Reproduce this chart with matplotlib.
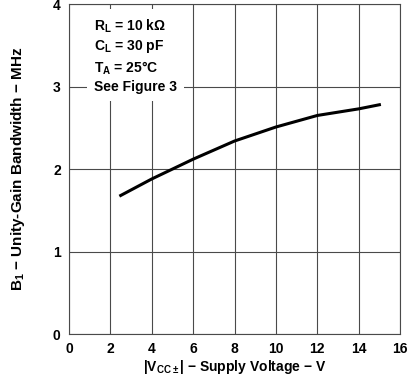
import matplotlib
matplotlib.use('Agg')
import matplotlib.pyplot as plt

# values
supply_v = [2.5, 4, 5, 6, 8, 10, 12, 14, 15]
bandwidth = [1.68, 1.88, 2.0, 2.12, 2.34, 2.51, 2.65, 2.73, 2.78]

x_ticks = [0, 2, 4, 6, 8, 10, 12, 14, 16]
y_ticks = [0, 1, 2, 3, 4]

plt.rcParams['font.family'] = 'Liberation Sans'
plt.rcParams['font.weight'] = 'bold'
plt.rcParams['mathtext.fontset'] = 'custom'
plt.rcParams['mathtext.rm'] = 'Liberation Sans:bold'
plt.rcParams['mathtext.it'] = 'Liberation Sans:bold'
plt.rcParams['mathtext.bf'] = 'Liberation Sans:bold'

fig = plt.figure(figsize=(4.07, 3.75), dpi=100)
ax = fig.add_axes([0.1695, 0.1093, 0.8135, 0.8797])

ax.plot(supply_v, bandwidth, color='black', lw=2.2, zorder=4)

ax.set_xlim(0, 16)
ax.set_ylim(0, 4)
ax.set_xticks(x_ticks)
ax.set_yticks(y_ticks)
ax.tick_params(length=0, labelsize=10, pad=6)
for lab in ax.get_xticklabels() + ax.get_yticklabels():
    lab.set_fontweight('bold')
ax.grid(True, color='#4a4a4a', lw=0.8, zorder=1)
ax.set_axisbelow(True)
for s in ax.spines.values():
    s.set_color('#4a4a4a')
    s.set_linewidth(0.8)

ax.set_xlabel(r'|V$_{CC\pm}$| $-$ Supply Voltage $-$ V', fontsize=10, fontweight='bold', labelpad=1)
ax.set_ylabel(r'B$_1$ $-$ Unity-Gain Bandwidth $-$ MHz', fontsize=11, fontweight='bold', labelpad=19)

note = ('R$_L$ = 10 k$\\Omega$\n'
        'C$_L$ = 30 pF\n'
        'T$_A$ = 25$\\degree$C\n'
        'See Figure 3')
ax.text(1.2, 3.84, note, fontsize=10, fontweight='bold', va='top', ha='left',
        linespacing=1.3, zorder=3,
        bbox=dict(facecolor='white', edgecolor='none', pad=5))

fig.savefig('out.png', dpi=100)
